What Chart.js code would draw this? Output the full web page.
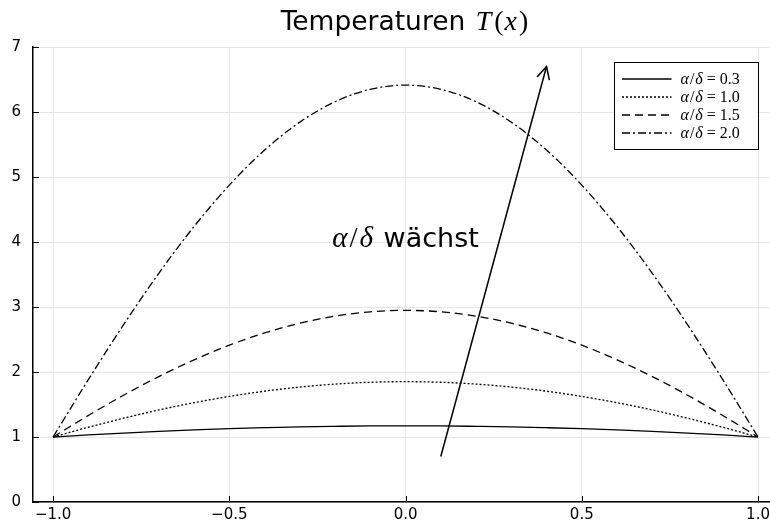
<!DOCTYPE html>
<html>
<head>
<meta charset="utf-8">
<script src="https://cdn.jsdelivr.net/npm/chart.js@4/dist/chart.umd.min.js"></script>
<style>
body { margin: 0; background: #fff; }
#wrap { width: 770px; height: 527px; }
</style>
</head>
<body>
<div id="wrap"><canvas id="chart"></canvas></div>
<script>
// x positions and temperature curves
var xs = [-1.0, -0.9, -0.8, -0.7, -0.6, -0.5, -0.4, -0.3, -0.2, -0.1, 0.0,
          0.1, 0.2, 0.3, 0.4, 0.5, 0.6, 0.7, 0.8, 0.9, 1.0];
var t03 = [1.000, 1.032, 1.061, 1.086, 1.109, 1.128, 1.143, 1.156, 1.164, 1.170, 1.171,
           1.170, 1.164, 1.156, 1.143, 1.128, 1.109, 1.086, 1.061, 1.032, 1.000];
var t10 = [1.000, 1.150, 1.289, 1.416, 1.528, 1.624, 1.705, 1.768, 1.814, 1.842, 1.851,
           1.842, 1.814, 1.768, 1.705, 1.624, 1.528, 1.416, 1.289, 1.150, 1.000];
var t15 = [1.000, 1.331, 1.643, 1.930, 2.187, 2.413, 2.601, 2.751, 2.860, 2.926, 2.948,
           2.926, 2.860, 2.751, 2.601, 2.413, 2.187, 1.930, 1.643, 1.331, 1.000];
var t20 = [1.000, 1.883, 2.728, 3.519, 4.239, 4.875, 5.414, 5.844, 6.158, 6.349, 6.413,
           6.349, 6.158, 5.844, 5.414, 4.875, 4.239, 3.519, 2.728, 1.883, 1.000];
var ratios = ['0.3', '1.0', '1.5', '2.0'];
var series = [t03, t10, t15, t20];
var dashes = [[], [2, 2], [8, 5], [8, 3, 2, 3]];

var xTicks = [-1.0, -0.5, 0.0, 0.5, 1.0];
var yTicks = [0, 1, 2, 3, 4, 5, 6, 7];

// arrow and its note
var arrowX = [0.1, 0.4];
var arrowY = [0.7, 6.7];
var noteX = 0.0, noteY = 4.0;

var SANS = '"DejaVu Sans"';
var SERIF = '"Liberation Serif"';

function pts(ys) {
    return xs.map(function (x, i) { return { x: x, y: ys[i] }; });
}

var datasets = series.map(function (ys, i) {
    return {
        label: 'α/δ = ' + ratios[i],
        data: pts(ys),
        borderColor: '#000',
        borderWidth: 1.3,
        borderDash: dashes[i],
        pointRadius: 0,
        fill: false,
        cubicInterpolationMode: 'monotone'
    };
});
datasets.push({
    label: 'arrow',
    data: arrowX.map(function (x, i) { return { x: x, y: arrowY[i] }; }),
    borderColor: '#000',
    borderWidth: 1.5,
    pointRadius: 0,
    fill: false
});

function drawParts(ctx, parts, x, y) {
    parts.forEach(function (p) {
        ctx.font = p.f;
        ctx.fillText(p.t, x, y);
        x += ctx.measureText(p.t).width + (p.gap || 0);
    });
}
function partsWidth(ctx, parts) {
    var w = 0;
    parts.forEach(function (p) {
        ctx.font = p.f;
        w += ctx.measureText(p.t).width + (p.gap || 0);
    });
    return w;
}

var extras = {
    id: 'extras',
    afterDraw: function (chart) {
        var ctx = chart.ctx, xs_ = chart.scales.x, ys_ = chart.scales.y, area = chart.chartArea;
        ctx.save();
        ctx.fillStyle = '#000';
        ctx.strokeStyle = '#000';
        ctx.textBaseline = 'alphabetic';
        ctx.textAlign = 'left';

        // inward tick marks
        ctx.lineWidth = 1;
        ctx.beginPath();
        xTicks.forEach(function (v) {
            var px = Math.round(xs_.getPixelForValue(v)) + 0.5;
            ctx.moveTo(px, area.bottom);
            ctx.lineTo(px, area.bottom - 6);
        });
        yTicks.forEach(function (v) {
            var py = Math.round(ys_.getPixelForValue(v)) + 0.5;
            ctx.moveTo(area.left, py);
            ctx.lineTo(area.left + 6, py);
        });
        ctx.stroke();

        // arrow head
        var x1 = xs_.getPixelForValue(arrowX[0]), y1 = ys_.getPixelForValue(arrowY[0]);
        var x2 = xs_.getPixelForValue(arrowX[1]), y2 = ys_.getPixelForValue(arrowY[1]);
        var ang = Math.atan2(y1 - y2, x1 - x2);
        var len = 14, spread = 27 * Math.PI / 180;
        ctx.lineWidth = 1.5;
        ctx.beginPath();
        ctx.moveTo(x2 + len * Math.cos(ang - spread), y2 + len * Math.sin(ang - spread));
        ctx.lineTo(x2, y2);
        ctx.lineTo(x2 + len * Math.cos(ang + spread), y2 + len * Math.sin(ang + spread));
        ctx.stroke();

        // title
        var title = [
            { t: 'Temperaturen ', f: '26.5px ' + SANS, gap: 2 },
            { t: 'T', f: 'italic 28px ' + SERIF, gap: 3 },
            { t: '(', f: '28px ' + SERIF, gap: 1 },
            { t: 'x', f: 'italic 28px ' + SERIF, gap: 2 },
            { t: ')', f: '28px ' + SERIF }
        ];
        var tw = partsWidth(ctx, title);
        drawParts(ctx, title, 404.5 - tw / 2, 30);

        // note
        var note = [
            { t: 'α', f: 'italic 29px ' + SERIF, gap: 2 },
            { t: '/', f: '29px ' + SERIF, gap: 2 },
            { t: 'δ', f: 'italic 29px ' + SERIF, gap: 2 },
            { t: ' wächst', f: '27px ' + SANS }
        ];
        var nw = partsWidth(ctx, note);
        drawParts(ctx, note, xs_.getPixelForValue(noteX) - nw / 2, ys_.getPixelForValue(noteY) + 5);

        // legend
        var bw = 143.5, bh = 86.5;
        var bx = area.right - 13 - bw, by = area.top + 15;
        ctx.fillStyle = '#fff';
        ctx.fillRect(bx, by, bw, bh);
        ctx.lineWidth = 1;
        ctx.strokeStyle = '#000';
        ctx.strokeRect(Math.round(bx) + 0.5, Math.round(by) + 0.5, Math.round(bw), Math.round(bh));
        ctx.fillStyle = '#000';
        ratios.forEach(function (r, i) {
            var ry = by + 17 + i * 18;
            ctx.save();
            ctx.lineWidth = 1.3;
            ctx.setLineDash(dashes[i]);
            ctx.beginPath();
            ctx.moveTo(bx + 8.5, ry);
            ctx.lineTo(bx + 58, ry);
            ctx.stroke();
            ctx.restore();
            drawParts(ctx, [
                { t: 'α', f: 'italic 16px ' + SERIF, gap: 1 },
                { t: '/', f: '16px ' + SERIF, gap: 1 },
                { t: 'δ', f: 'italic 16px ' + SERIF, gap: 4 },
                { t: '=', f: '16px ' + SERIF, gap: 4 },
                { t: r, f: '16px ' + SERIF }
            ], bx + 67, ry + 5);
        });
        ctx.restore();
    }
};

var ctx = document.getElementById('chart').getContext('2d');

var tempChart = new Chart(ctx, {
    type: 'line',
    data: { datasets: datasets },
    options: {
        responsive: true,
        maintainAspectRatio: false,
        animation: false,
        layout: { padding: { top: 47, left: 0, right: 0, bottom: 0 } },
        plugins: {
            legend: { display: false },
            title: { display: false },
            tooltip: { enabled: false }
        },
        scales: {
            x: {
                type: 'linear',
                min: -1.057,
                max: 1.034,
                afterBuildTicks: function (scale) {
                    scale.ticks = xTicks.map(function (v) { return { value: v }; });
                },
                afterFit: function (scale) {
                    scale.height = 25;
                    scale.paddingLeft = 0;
                    scale.paddingRight = 0;
                },
                ticks: {
                    color: '#000',
                    padding: 4,
                    maxRotation: 0,
                    font: { family: 'DejaVu Sans', size: 15 },
                    callback: function (v) {
                        return (v < 0 ? '\u2212' : '') + Math.abs(v).toFixed(1);
                    }
                },
                grid: { color: '#e6e6e6', lineWidth: 1, drawTicks: false },
                border: { color: '#000', width: 1.5 }
            },
            y: {
                min: 0,
                max: 7,
                afterBuildTicks: function (scale) {
                    scale.ticks = yTicks.map(function (v) { return { value: v }; });
                },
                afterFit: function (scale) {
                    scale.width = 33;
                    scale.paddingTop = 0;
                    scale.paddingBottom = 0;
                },
                ticks: {
                    color: '#000',
                    padding: 12,
                    font: { family: 'DejaVu Sans', size: 15 }
                },
                grid: { color: '#e6e6e6', lineWidth: 1, drawTicks: false },
                border: { color: '#000', width: 1.5 }
            }
        }
    },
    plugins: [extras]
});
</script>
</body>
</html>
